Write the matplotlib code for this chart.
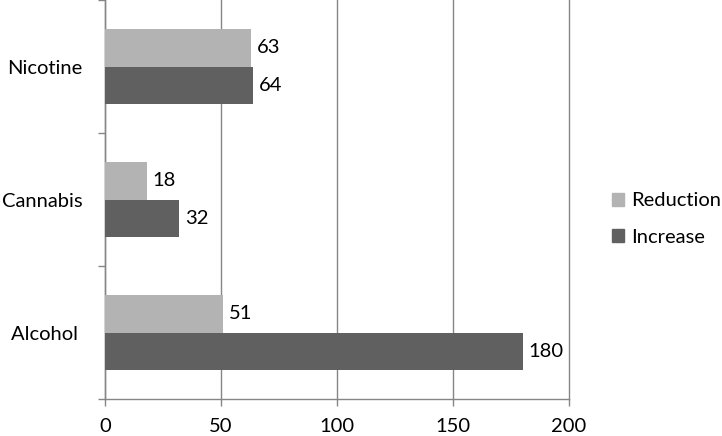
import matplotlib
matplotlib.use("Agg")
import matplotlib.pyplot as plt
from matplotlib.patches import Patch
import numpy as np

categories = ["Alcohol ", "Cannabis", "Nicotine"]
reduction = [51, 18, 63]
increase = [180, 32, 64]
x_ticks = [0, 50, 100, 150, 200]

plt.rcParams['font.family'] = ['Lato', 'DejaVu Sans']
fs = 14.5

fig = plt.figure(figsize=(7.22, 4.36), dpi=100)
ax = fig.add_axes([105 / 722, 1 - 399 / 436, (569 - 105) / 722, 399 / 436])

y = np.arange(len(categories))
h = 0.285
c_red = '#b3b3b3'
c_inc = '#606060'

bars_red = ax.barh(y + h / 2, reduction, height=h, color=c_red, zorder=3)
bars_inc = ax.barh(y - h / 2, increase, height=h, color=c_inc, zorder=3)

for bars, vals in ((bars_red, reduction), (bars_inc, increase)):
    for b, v in zip(bars, vals):
        ax.annotate(str(v), (b.get_width(), b.get_y() + b.get_height() / 2),
                    xytext=(4, 0), textcoords='offset points',
                    va='center', ha='left', fontsize=fs, color='#000000')

ax.set_xlim(0, 200)
ax.set_ylim(-0.5, len(categories) - 0.5)
ax.set_xticks(x_ticks)
ax.set_xticklabels([str(t) for t in x_ticks])
ax.set_yticks(y)
ax.set_yticklabels(categories)
ax.set_yticks(np.arange(-0.5, len(categories)), minor=True)

ax.grid(axis='x', color='#868686', linewidth=1, zorder=0)
for gl in ax.get_xgridlines():
    gl.set_clip_on(False)
ax.tick_params(axis='y', which='major', length=0, pad=16, labelsize=fs)
ax.tick_params(axis='y', which='minor', length=5, color='#868686', width=1)
ax.tick_params(axis='x', which='major', length=5, color='#868686', width=1,
               direction='out', pad=9, labelsize=fs)

for s in ('top', 'right'):
    ax.spines[s].set_visible(False)
for s in ('left', 'bottom'):
    ax.spines[s].set_color('#868686')
    ax.spines[s].set_linewidth(1)

handles = [Patch(color=c_red, label='Reduction'), Patch(color=c_inc, label='Increase')]
fig.legend(handles=handles, loc='center left', bbox_to_anchor=(604 / 722, 1 - 219 / 436),
           frameon=False, fontsize=fs, handlelength=0.6, handleheight=0.6,
           handletextpad=0.35, labelspacing=0.95, borderaxespad=0)

fig.savefig('out.png', dpi=100)
